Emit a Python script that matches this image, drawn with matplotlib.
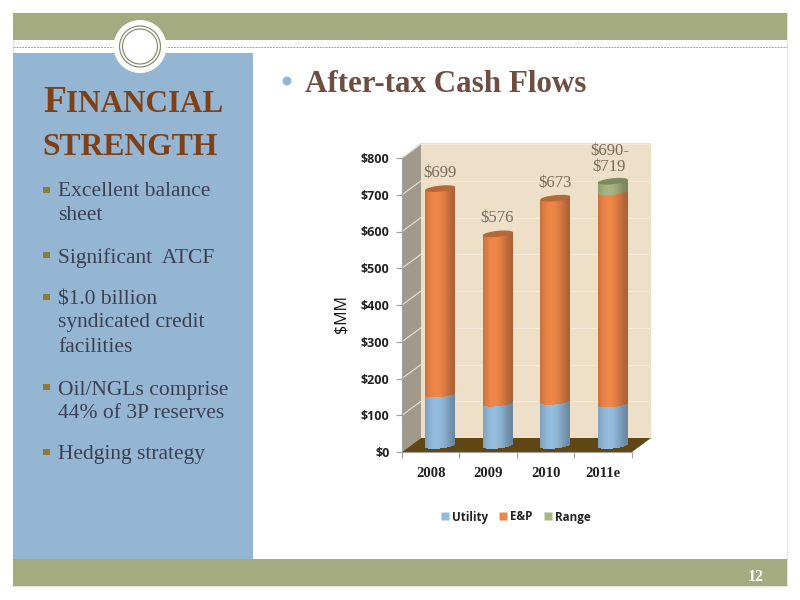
import numpy as np
import matplotlib
matplotlib.use("Agg")
import matplotlib.pyplot as plt
from matplotlib.patches import Rectangle, Polygon, Circle
from matplotlib.lines import Line2D
from matplotlib.transforms import Affine2D

# ---- data
years = ["2008", "2009", "2010", "2011e"]
utility = [140, 115, 120, 113]
ep = [559, 461, 553, 577]
range_part = [0, 0, 0, 29]
total_labels = ["$699", "$576", "$673", "$690-\n$719"]
yticks = [0, 100, 200, 300, 400, 500, 600, 700, 800]
bullets = [
    (192, "Excellent balance"), (216, "sheet"),
    (258, "Significant  ATCF"),
    (300, "$1.0 billion"), (323, "syndicated credit"), (347, "facilities"),
    (390, "Oil/NGLs comprise"), (414, "44% of 3P reserves"),
    (455, "Hedging strategy"),
]
bullet_marks = [190, 255, 297, 387, 452]

# ---- colours
C_BAND = "#A5AB81"
C_PANEL = "#94B6D2"
C_TITLE = "#7F3F17"
C_TEXT = "#3C3F52"
C_BULLET = "#8F7A32"
C_UTIL = "#94BCDD"
C_EP = "#EE8648"
C_RANGE = "#A9B583"
C_LABEL = "#7A6A5C"

fig = plt.figure(figsize=(8, 6), dpi=100, facecolor="white")
bg = fig.add_axes([0, 0, 1, 1], zorder=0)
bg.set_xlim(0, 800)
bg.set_ylim(600, 0)
bg.axis("off")

SERIF = "Liberation Serif"

# ---- slide furniture
bg.add_patch(Rectangle((13, 13), 774, 573, fc="white", ec="#E4E5D8", lw=0.8))
bg.add_patch(Rectangle((13, 13), 774, 27, fc=C_BAND, ec="none"))
bg.add_patch(Rectangle((13, 559), 774, 27, fc=C_BAND, ec="none"))
bg.plot([13, 787], [46.5, 46.5], color="#A5A88C", lw=0.7, ls=(0, (2, 1)))
bg.add_patch(Rectangle((13, 53), 240, 506, fc=C_PANEL, ec="none"))
bg.add_patch(Circle((140, 46.5), 26.5, fc="white", ec="none", zorder=3))
bg.add_patch(Circle((140, 46.5), 20.5, fc="none", ec="#8A8E70", lw=0.9, zorder=4))
bg.add_patch(Circle((140, 46.5), 17.5, fc="none", ec="#8A8E70", lw=0.9, zorder=4))
bg.text(755.5, 577, "12", color="white", fontsize=11.5, fontweight="bold",
        family=SERIF, ha="center", va="center")

# ---- left panel text
bg.text(43, 112.5, "F", color=C_TITLE, fontsize=27, fontweight="bold", family=SERIF, va="baseline")
bg.text(66, 112.5, "INANCIAL", color=C_TITLE, fontsize=22.4, fontweight="bold", family=SERIF, va="baseline")
bg.text(42, 155, "STRENGTH", color=C_TITLE, fontsize=22.8, fontweight="bold", family=SERIF, va="baseline")
for y, s in bullets:
    bg.text(58, y, s, color=C_TEXT, fontsize=15.5, family=SERIF, va="center")
for y in bullet_marks:
    bg.add_patch(Rectangle((43, y - 3.2), 6.5, 6.5, fc=C_BULLET, ec="none"))

# ---- heading
bg.add_patch(Circle((287, 81), 4.5, fc=C_PANEL, ec="none"))
bg.text(305, 84, "After-tax Cash Flows", color="#6F4E42", fontsize=22.3, fontweight="bold",
        family=SERIF, va="center")

# ---- 3D walls
bg.add_patch(Polygon([(421, 143), (651, 143), (651, 438), (421, 438)], fc="#EEDFC8", ec="none"))
bg.add_patch(Polygon([(402, 158), (421, 143), (421, 438), (402, 452)], fc="#A1998A", ec="none"))
bg.add_patch(Polygon([(402, 452), (421, 438), (651, 438), (632, 452)], fc="#5E4712", ec="none"))

# ---- chart axes
ax = fig.add_axes([402 / 800, 1 - 452 / 600, 230 / 800, 294 / 600], zorder=1)
ax.patch.set_alpha(0)
ax.set_xlim(-0.5, 3.5)
ax.set_ylim(0, 800)
U_PER_PX = 800 / 294
X_PER_PX = 4 / 230

# wall gridlines
for v in yticks[1:]:
    ax.plot([-0.5, -0.5 + 19 * X_PER_PX], [v, v + 14 * U_PER_PX], color="#E8E4D8", lw=0.8,
            clip_on=False, zorder=1)
    ax.plot([-0.5 + 19 * X_PER_PX, 3.5 + 19 * X_PER_PX], [v + 14 * U_PER_PX] * 2, color="#F3EBDD", lw=0.6,
            clip_on=False, zorder=1)

depth = ax.transData + Affine2D().translate(9.5, 6.5)
half = 15 * X_PER_PX
b_u = 3.0 * U_PER_PX
tilt = 1.5 * U_PER_PX
strips = np.linspace(-1, 1, 90)
dw = strips[1] - strips[0]


def shade(color, s):
    rgb = np.array(matplotlib.colors.to_rgb(color))
    f = 0.72 + 0.28 * np.cos((s + 0.25) * np.pi / 2.5) ** 1.5
    return tuple(np.clip(rgb * f, 0, 1))


def lower_edge(s):
    return -b_u * np.sqrt(max(1 - s * s, 0)) + tilt * s


def segment(i, lo, h, color, z):
    for s in strips:
        y0 = lo + lower_edge(s)
        ax.bar(i + s * half, h + tilt * s - lower_edge(s), width=dw * half * 1.3, bottom=y0,
               color=shade(color, s), linewidth=0, transform=depth, clip_on=False, zorder=z)


def cap(i, top, color, z):
    t = np.linspace(0, 2 * np.pi, 80)
    ax.fill(i + half * np.cos(t), top + b_u * np.sin(t) + tilt * np.cos(t), color=color,
            linewidth=0, transform=depth, clip_on=False, zorder=z)


for i in range(len(years)):
    u, e, r = utility[i], ep[i], range_part[i]
    segment(i, 0, u, C_UTIL, 3)
    segment(i, u, e, C_EP, 4)
    top = u + e
    cap_col = "#B5683A"
    if r:
        segment(i, top, r, C_RANGE, 5)
        top += r
        cap_col = "#7D8A5C"
    cap(i, top, cap_col, 6)
    ax.annotate(total_labels[i], (i, top), xytext=(6.3 if not r else 4.3, 10 if not r else 9),
                textcoords="offset points", ha="center", va="bottom", color=C_LABEL, fontsize=12,
                family=SERIF, linespacing=1.0, annotation_clip=False, zorder=7)

# ---- axes furniture
for sp in ("top", "right"):
    ax.spines[sp].set_visible(False)
for sp in ("left", "bottom"):
    ax.spines[sp].set_color("#A0A0A0")
    ax.spines[sp].set_linewidth(0.8)
    ax.spines[sp].set_zorder(2)
ax.set_yticks(yticks)
ax.set_yticklabels([f"${v}" for v in yticks], fontsize=9, fontweight="bold", family="Open Sans", color="#222222")
ax.tick_params(axis="y", length=4, color="#A0A0A0", pad=5)
ax.set_xticks(np.arange(-0.5, 4, 1))
ax.set_xticklabels([])
ax.tick_params(axis="x", length=4, color="#A0A0A0")
ax.set_xticks(range(len(years)), minor=True)
ax.set_xticklabels(years, minor=True, fontsize=10.6, fontweight="bold", family=SERIF, color="#222222")
ax.tick_params(axis="x", which="minor", length=0, pad=11)
ax.set_ylabel("$MM", fontsize=11.5, family="Open Sans", color="#111111")
ax.yaxis.set_label_coords(-0.23, 0.469)

# ---- legend
handles = [Line2D([], [], ls="none", marker="s", ms=5.2, mfc=c, mec="none", label=l)
           for c, l in [(C_UTIL, "Utility"), (C_EP, "E&P"), (C_RANGE, "Range")]]
fig.legend(handles=handles, ncol=3, frameon=False, loc="center", bbox_to_anchor=(516 / 800, 1 - 517 / 600),
           prop={"family": "Open Sans", "size": 8.4, "weight": "bold"}, handlelength=0.6, handletextpad=0.3,
           columnspacing=1.0, labelcolor="#222222")

fig.savefig("out.png", dpi=100)
